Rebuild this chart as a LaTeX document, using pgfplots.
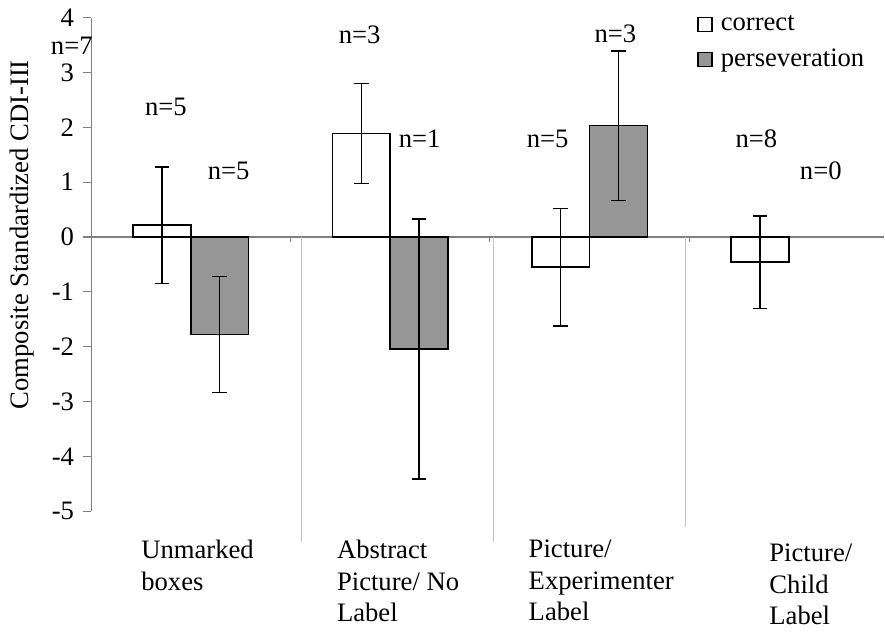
\documentclass[border=0pt]{standalone}
\usepackage{fontspec}
\setmainfont{Liberation Serif}
\usepackage{pgfplots}
\pgfplotsset{compat=1.18}
\definecolor{barfill}{RGB}{150,150,150}
\definecolor{axisgray}{RGB}{128,128,128}
\definecolor{sepgray}{RGB}{195,195,195}

\begin{document}
\fontsize{20}{23.5}\selectfont
\begin{tikzpicture}
\begin{axis}[
width=595.5pt,
height=370.5pt,
scale only axis,
clip=false,
xmin=-0.5, xmax=3.479,
ymin=-5, ymax=4,
ytick={-5,-4,-3,-2,-1,0,1,2,3,4},
/pgf/number format/assume math mode=true,
axis y line*=left,
axis x line*=bottom,
x axis line style={draw=none},
y axis line style={axisgray, line width=0.9pt, -},
ytick style={axisgray, line width=0.9pt},
xtick style={draw=none},
tick align=outside,
major tick length=6pt,
xtick={0,1,2},
xticklabels={{\hspace*{8.5pt}Unmarked\\\hspace*{8.5pt}boxes},
  {\hspace*{5.75pt}Abstract\\\hspace*{5.75pt}Picture/ No\\\hspace*{5.75pt}Label},
  {Picture/\\Experimenter\\Label}},
extra x ticks={3},
extra x tick labels={{Picture/\\Child\\Label}},
extra x tick style={xticklabel style={yshift=-3pt, xshift=31pt}},
xticklabel style={align=left, anchor=north west, xshift=-52.5pt, yshift=-9pt},
ylabel={Composite Standardized CDI-III},
ylabel style={at={(ticklabel cs:0.56)}},
ybar=0pt,
bar width=0.29,
legend style={at={(rel axis cs:0.764,1.011)}, anchor=north west, draw=none, fill=none,
  legend cell align=left, row sep=7pt, inner sep=0pt,
  /tikz/every even column/.append style={column sep=0pt}},
]
% zero line and category separators
\draw[axisgray, line width=0.9pt] (axis cs:-0.5,0) -- (axis cs:3.479,0);
\draw[axisgray, line width=0.8pt] (axis cs:0.5,0) -- (axis cs:0.5,-0.1);
\draw[axisgray, line width=0.8pt] (axis cs:1.5,0) -- (axis cs:1.5,-0.1);
\draw[axisgray, line width=0.8pt] (axis cs:2.5,0) -- (axis cs:2.5,-0.1);
\draw[sepgray, line width=1pt] (axis cs:0.556,0) -- (axis cs:0.556,-5.56);
\draw[sepgray, line width=1pt] (axis cs:1.519,0) -- (axis cs:1.519,-5.56);
\draw[sepgray, line width=1pt] (axis cs:2.481,0) -- (axis cs:2.481,-5.29);

\addplot[fill=white, draw=black, line width=1.2pt,
  legend image code/.code={\draw[black, fill=white, line width=1.1pt] (0pt,-5.2pt) rectangle (10.4pt,5.2pt);},
  error bars/.cd, y dir=both, y explicit,
  error bar style={black, line width=1.1pt},
  error mark options={rotate=90, black, mark size=5.5pt, line width=1.1pt}]
coordinates {
(0,0.215) +- (0,1.06)
(1,1.89) +- (0,0.91)
(2,-0.55) +- (0,1.07)
(3,-0.46) +- (0,0.84)
};
\addlegendentry{\hspace{4pt}correct}

\addplot[fill=barfill, draw=black, line width=1.2pt,
  legend image code/.code={\draw[black, fill=barfill, line width=1.1pt] (0pt,-5.2pt) rectangle (10.4pt,5.2pt);},
  error bars/.cd, y dir=both, y explicit,
  error bar style={black, line width=1.1pt},
  error mark options={rotate=90, black, mark size=5.5pt, line width=1.1pt}]
coordinates {
(0,-1.78) +- (0,1.06)
(1,-2.04) +- (0,2.37)
(2,2.03) +- (0,1.36)
};
\addlegendentry{\hspace{4pt}perseveration}

% sample sizes
\node at (axis cs:-0.597,3.49) {n=7};
\node at (axis cs:-0.125,2.38) {n=5};
\node at (axis cs:0.19,1.21) {n=5};
\node at (axis cs:0.847,3.69) {n=3};
\node at (axis cs:1.148,1.79) {n=1};
\node at (axis cs:1.79,1.79) {n=5};
\node at (axis cs:2.13,3.71) {n=3};
\node at (axis cs:2.837,1.79) {n=8};
\node at (axis cs:3.16,1.21) {n=0};

% page extent
\path (axis cs:-0.957,4.27) rectangle (axis cs:3.479,-7.295);
\end{axis}
\end{tikzpicture}
\end{document}
